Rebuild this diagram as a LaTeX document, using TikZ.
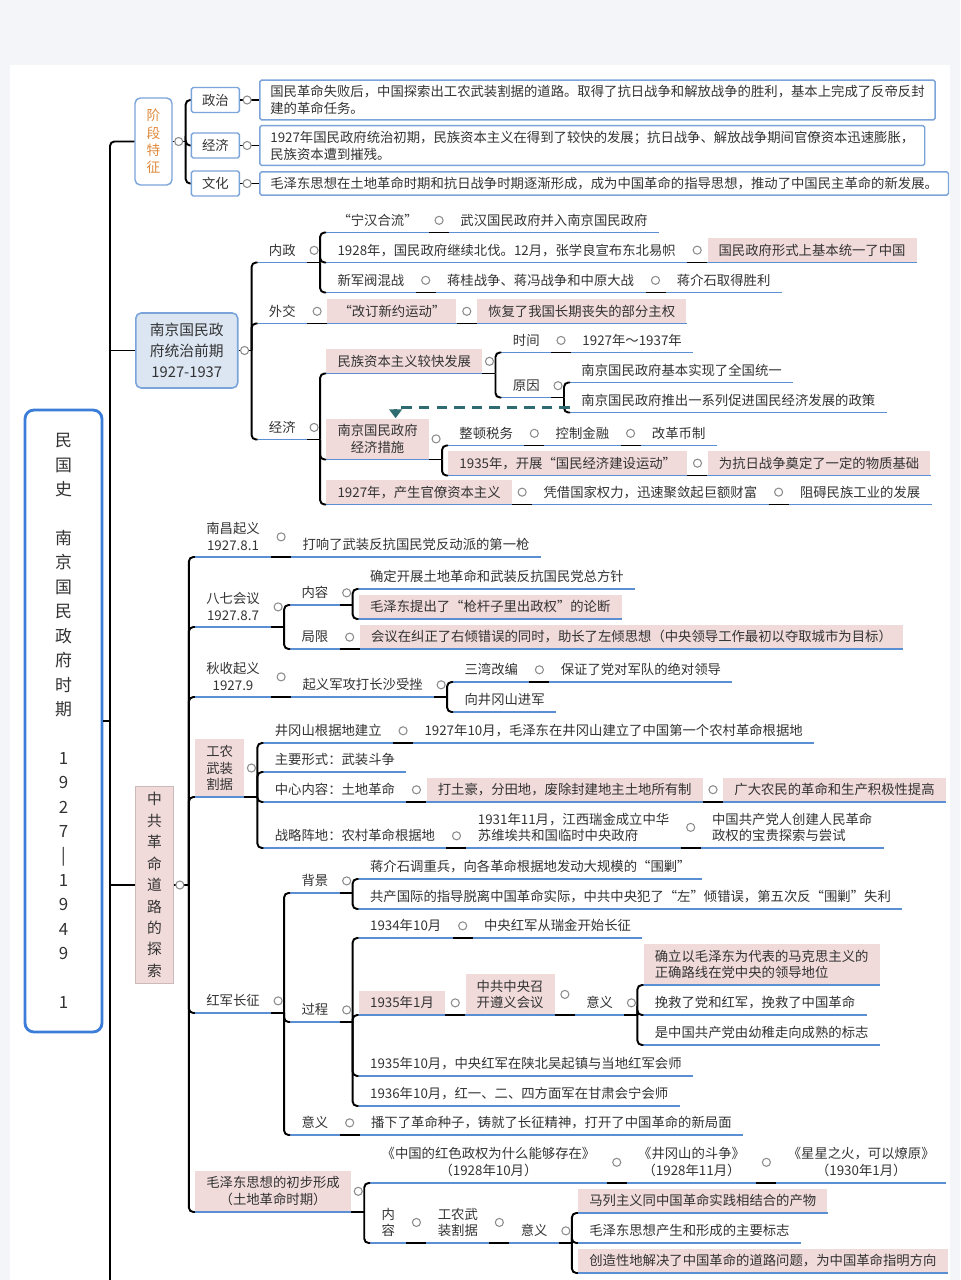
\documentclass[tikz,border=0pt]{standalone}
\usepackage{fontspec}
\setmainfont{Noto Sans CJK SC}
\usetikzlibrary{arrows.meta, calc}
\definecolor{ink}{HTML}{333333}
\definecolor{lineblue}{HTML}{5B8FD3}
\definecolor{boxblue}{HTML}{7BA4DB}
\definecolor{rootblue}{HTML}{3B7DD8}
\definecolor{pinkbg}{HTML}{F0DADA}
\definecolor{paleblue}{HTML}{DCE6F3}
\definecolor{orangetxt}{HTML}{E08A3C}
\definecolor{relteal}{HTML}{2E6C72}
\definecolor{pagebg}{HTML}{F3F5F9}
\newcommand\tf{\fontsize{7.6pt}{9.6pt}\selectfont}
\tikzset{
  topic/.style={anchor=south west, inner xsep=6.3pt, inner ysep=3.2pt, text=ink, font=\tf, align=center,
    append after command={(\tikzlastnode.south west) edge[underl] (\tikzlastnode.south east)}},
  pinktopic/.style={topic, fill=pinkbg},
  bluebox/.style={draw=boxblue, fill=white, line width=0.8pt, rounded corners=1pt, text=ink, font=\tf, inner xsep=6pt, inner ysep=3pt},
  underl/.style={draw=lineblue, line width=1.1pt},
  conn/.style={draw=black, line width=1.1pt, rounded corners=2.5pt},
  knob/.style={circle, draw=black!45, fill=white, line width=0.6pt, inner sep=0pt, minimum size=4.6pt},
  relarrow/.style={draw=relteal, line width=1.3pt, dash pattern=on 6pt off 4pt, -{Triangle[width=7pt,length=5pt]}},
  rootbox/.style={draw=rootblue, line width=1.6pt, rounded corners=5pt, fill=white, minimum width=1.54cm, minimum height=12.44cm, align=center, text=ink, font=\fontsize{9.6pt}{13.9pt}\selectfont},
  stagebox/.style={draw=boxblue, line width=0.8pt, rounded corners=3pt, fill=white, minimum width=0.74cm, minimum height=1.74cm, align=center, text=orangetxt, font=\fontsize{7.8pt}{9.9pt}\selectfont},
  njbox/.style={draw=boxblue, fill=paleblue, line width=0.9pt, rounded corners=3pt, anchor=west, minimum width=2.04cm, minimum height=1.5cm, align=center, text=ink, font=\fontsize{8.4pt}{11.9pt}\selectfont},
  zgbox/.style={draw=pinkbg!85!black, fill=pinkbg, line width=0.5pt, anchor=west, minimum width=0.76cm, minimum height=3.92cm, align=center, text=ink, font=\fontsize{8.4pt}{12.2pt}\selectfont},
}
% chain link with knob, and fork to a bracket of children
\newcommand\link[2]{\draw[conn] (#1.south east) -- (#2.south west); \node[knob] (k-#1) at ($(#1.east)+(10,0)$) {};}
\newcommand\fork[2]{\draw[conn] (#1.south east) -- ++(13,0);
  \foreach \ch in {#2} {\draw[conn] (#1.south east) ++(13,0) |- (\ch.south west);}
  \node[knob] (k-#1) at ($(#1.east)+(7,0)$) {};}
\newcommand\forkc[3]{\draw[conn] (#1.east) -- ++(#2,0);
  \foreach \ch in {#3} {\draw[conn] (#1.east) ++(#2,0) |- (\ch.south west);}
  \node[knob] (k-#1) at ($(#1.east)+(6,0)$) {};}

\begin{document}
\begin{tikzpicture}[x=0.02cm, y=-0.02cm]
\useasboundingbox (0,0) rectangle (960,1280);
\fill[pagebg] (0,0) rectangle (960,1280);
\fill[white] (10,65) rectangle (950,1280);
\coordinate (trunkend) at (110,1280);

% root
\node[rootbox] (root) at (63.5,721) {民\\国\\史\\[13.9pt]南\\京\\国\\民\\政\\府\\时\\期\\[13.9pt]1\\9\\2\\7\\|\\1\\9\\4\\9\\[13.9pt]1};

% stage features
\node[stagebox] (jd) at (153.5,141.5) {阶\\段\\特\\征};
\node[bluebox, anchor=west, minimum width=0.96cm, minimum height=0.5cm] (zz) at ($(jd.east)+(18,-41.5)$) {政治};
\node[bluebox, anchor=west, minimum width=0.96cm, minimum height=0.5cm] (jjk) at ($(jd.east)+(18,4)$) {经济};
\node[bluebox, anchor=west, minimum width=0.96cm, minimum height=0.5cm] (wh) at ($(jd.east)+(18,42)$) {文化};
\node[bluebox, anchor=west, align=left] (zzt) at ($(zz.east)+(19,0)$) {国民革命失败后，中国探索出工农武装割据的道路。取得了抗日战争和解放战争的胜利，基本上完成了反帝反封\\建的革命任务。};
\node[bluebox, anchor=west, align=left] (jjkt) at ($(jjk.east)+(19,0)$) {1927年国民政府统治初期，民族资本主义在得到了较快的发展；抗日战争、解放战争期间官僚资本迅速膨胀，\\民族资本遭到摧残。};
\node[bluebox, anchor=west, align=left] (wht) at ($(wh.east)+(19,0)$) {毛泽东思想在土地革命时期和抗日战争时期逐渐形成，成为中国革命的指导思想，推动了中国民主革命的新发展。};
\draw[conn] (jd.east) -- ++(13,0);
\foreach \ch in {zz,jjk,wh} \draw[conn] (jd.east) ++(13,0) |- (\ch.west);
\foreach \a/\b in {zz/zzt,jjk/jjkt,wh/wht} {\draw[conn] (\a.east) -- (\b.west); \node[knob] (k-\a) at ($(\a.east)+(7,0)$) {};}
\node[knob] (k-jd) at ($(jd.east)+(6,0)$) {};

% Nanjing government
\node[njbox] (nj) at (135,350.5) {南京国民政\\府统治前期\\1927-1937};
\node[topic] (nz) at ($(nj.east)+(19,-88)$) {内政};
\node[topic] (wj) at ($(nj.east)+(19,-27)$) {外交};
\node[topic] (jj) at ($(nj.east)+(19,89)$) {经济};

\node[topic] (nz1) at ($(nz.south east)+(19,-30)$) {“宁汉合流”};
\node[topic] (nz1b) at ($(nz1.south east)+(20,0)$) {武汉国民政府并入南京国民政府};
\node[topic] (nz2) at ($(nz.south east)+(19,0)$) {1928年，国民政府继续北伐。12月，张学良宣布东北易帜};
\node[pinktopic] (nz2b) at ($(nz2.south east)+(20,0)$) {国民政府形式上基本统一了中国};
\node[topic] (nz3) at ($(nz.south east)+(19,30)$) {新军阀混战};
\node[topic] (nz3b) at ($(nz3.south east)+(20,0)$) {蒋桂战争、蒋冯战争和中原大战};
\node[topic] (nz3c) at ($(nz3b.south east)+(20,0)$) {蒋介石取得胜利};

\node[pinktopic] (wj1) at ($(wj.south east)+(20,0)$) {“改订新约运动”};
\node[pinktopic] (wj2) at ($(wj1.south east)+(20,0)$) {恢复了我国长期丧失的部分主权};

\node[pinktopic] (jj1) at ($(jj.south east)+(19,-66)$) {民族资本主义较快发展};
\node[topic] (sj) at ($(jj1.south east)+(19,-21)$) {时间};
\node[topic] (sjb) at ($(sj.south east)+(20,0)$) {1927年～1937年};
\node[topic] (yy) at ($(jj1.south east)+(19,24)$) {原因};
\node[topic] (yy1) at ($(yy.south east)+(19,-15)$) {南京国民政府基本实现了全国统一};
\node[topic] (yy2) at ($(yy.south east)+(19,15)$) {南京国民政府推出一系列促进国民经济发展的政策};
\node[pinktopic] (jj2) at ($(jj.south east)+(19,20)$) {南京国民政府\\经济措施};
\node[topic] (cs1) at ($(jj2.south east)+(19,-14)$) {整顿税务};
\node[topic] (cs1b) at ($(cs1.south east)+(20,0)$) {控制金融};
\node[topic] (cs1c) at ($(cs1b.south east)+(20,0)$) {改革币制};
\node[pinktopic] (cs2) at ($(jj2.south east)+(19,16)$) {1935年，开展“国民经济建设运动”};
\node[pinktopic] (cs2b) at ($(cs2.south east)+(20,0)$) {为抗日战争奠定了一定的物质基础};
\node[pinktopic] (jj3) at ($(jj.south east)+(19,65)$) {1927年，产生官僚资本主义};
\node[topic] (jj3b) at ($(jj3.south east)+(20,0)$) {凭借国家权力，迅速聚敛起巨额财富};
\node[topic] (jj3c) at ($(jj3b.south east)+(20,0)$) {阻碍民族工业的发展};

\forkc{nj}{13}{nz,wj,jj}
\fork{nz}{nz1,nz2,nz3}
\link{nz1}{nz1b} \link{nz2}{nz2b} \link{nz3}{nz3b} \link{nz3b}{nz3c}
\link{wj}{wj1} \link{wj1}{wj2}
\fork{jj}{jj1,jj2,jj3} \fork{jj1}{sj,yy} \fork{yy}{yy1,yy2} \fork{jj2}{cs1,cs2}
\link{sj}{sjb} \link{cs1}{cs1b} \link{cs1b}{cs1c} \link{cs2}{cs2b} \link{jj3}{jj3b} \link{jj3b}{jj3c}
\draw[relarrow] (yy2.south west) ++(0,-5) -| ($(jj2.north)+(18,0)$);

% CPC revolution road
\node[zgbox] (zg) at (135,885) {中\\共\\革\\命\\道\\路\\的\\探\\索};
\node[topic] (nc) at ($(zg.east)+(21,-328)$) {南昌起义\\1927.8.1};
\node[topic] (nc1) at ($(nc.south east)+(20,0)$) {打响了武装反抗国民党反动派的第一枪};

\node[topic] (bq) at ($(zg.east)+(21,-258)$) {八七会议\\1927.8.7};
\node[topic] (bq1) at ($(bq.south east)+(19,-22)$) {内容};
\node[topic] (bq1a) at ($(bq1.south east)+(19,-16)$) {确定开展土地革命和武装反抗国民党总方针};
\node[pinktopic] (bq1b) at ($(bq1.south east)+(19,14)$) {毛泽东提出了“枪杆子里出政权”的论断};
\node[topic] (bq2) at ($(bq.south east)+(19,22)$) {局限};
\node[pinktopic] (bq2b) at ($(bq2.south east)+(20,0)$) {会议在纠正了右倾错误的同时，助长了左倾思想（中央领导工作最初以夺取城市为目标）};

\node[topic] (qs) at ($(zg.east)+(21,-188)$) {秋收起义\\1927.9};
\node[topic] (qs1) at ($(qs.south east)+(20,0)$) {起义军攻打长沙受挫};
\node[topic] (qs1a) at ($(qs1.south east)+(19,-15)$) {三湾改编};
\node[topic] (qs1ab) at ($(qs1a.south east)+(20,0)$) {保证了党对军队的绝对领导};
\node[topic] (qs1b) at ($(qs1.south east)+(19,15)$) {向井冈山进军};

\node[pinktopic] (gn) at ($(zg.east)+(21,-88)$) {工农\\武装\\割据};
\node[topic] (gn1) at ($(gn.south east)+(19,-54)$) {井冈山根据地建立};
\node[topic] (gn1b) at ($(gn1.south east)+(20,0)$) {1927年10月，毛泽东在井冈山建立了中国第一个农村革命根据地};
\node[topic] (gn2) at ($(gn.south east)+(19,-25)$) {主要形式：武装斗争};
\node[topic] (gn3) at ($(gn.south east)+(19,5)$) {中心内容：土地革命};
\node[pinktopic] (gn3b) at ($(gn3.south east)+(20,0)$) {打土豪，分田地，废除封建地主土地所有制};
\node[pinktopic] (gn3c) at ($(gn3b.south east)+(20,0)$) {广大农民的革命和生产积极性提高};
\node[topic] (gn4) at ($(gn.south east)+(19,51)$) {战略阵地：农村革命根据地};
\node[topic, align=left] (gn4b) at ($(gn4.south east)+(20,0)$) {1931年11月，江西瑞金成立中华\\苏维埃共和国临时中央政府};
\node[topic, align=left] (gn4c) at ($(gn4b.south east)+(20,0)$) {中国共产党人创建人民革命\\政权的宝贵探索与尝试};

\node[topic] (hj) at ($(zg.east)+(21,128)$) {红军长征};
\node[topic] (hj1) at ($(hj.south east)+(19,-120)$) {背景};
\node[topic] (hj1a) at ($(hj1.south east)+(19,-14)$) {蒋介石调重兵，向各革命根据地发动大规模的“围剿”};
\node[topic] (hj1b) at ($(hj1.south east)+(19,16)$) {共产国际的指导脱离中国革命实际，中共中央犯了“左”倾错误，第五次反“围剿”失利};
\node[topic] (hj2) at ($(hj.south east)+(19,9)$) {过程};
\node[topic] (gc1) at ($(hj2.south east)+(19,-84)$) {1934年10月};
\node[topic] (gc1b) at ($(gc1.south east)+(20,0)$) {中央红军从瑞金开始长征};
\node[pinktopic] (gc2) at ($(hj2.south east)+(19,-7)$) {1935年1月};
\node[pinktopic] (gc2b) at ($(gc2.south east)+(20,0)$) {中共中央召\\开遵义会议};
\node[topic] (gc2c) at ($(gc2b.south east)+(20,0)$) {意义};
\node[pinktopic, align=left] (zy1) at ($(gc2c.south east)+(19,-30)$) {确立以毛泽东为代表的马克思主义的\\正确路线在党中央的领导地位};
\node[topic] (zy2) at ($(gc2c.south east)+(19,0)$) {挽救了党和红军，挽救了中国革命};
\node[topic] (zy3) at ($(gc2c.south east)+(19,30)$) {是中国共产党由幼稚走向成熟的标志};
\node[topic] (gc3) at ($(hj2.south east)+(19,54)$) {1935年10月，中央红军在陕北吴起镇与当地红军会师};
\node[topic] (gc4) at ($(hj2.south east)+(19,84)$) {1936年10月，红一、二、四方面军在甘肃会宁会师};
\node[topic] (hj3) at ($(hj.south east)+(19,122)$) {意义};
\node[topic] (hj3b) at ($(hj3.south east)+(20,0)$) {播下了革命种子，铸就了长征精神，打开了中国革命的新局面};

\node[pinktopic] (mz) at ($(zg.east)+(21,327)$) {毛泽东思想的初步形成\\（土地革命时期）};
\node[topic] (mz1) at ($(mz.south east)+(19,-29)$) {《中国的红色政权为什么能够存在》\\（1928年10月）};
\node[topic] (mz1b) at ($(mz1.south east)+(20,0)$) {《井冈山的斗争》\\（1928年11月）};
\node[topic] (mz1c) at ($(mz1b.south east)+(20,0)$) {《星星之火，可以燎原》\\（1930年1月）};
\node[topic] (mz2) at ($(mz.south east)+(19,31)$) {内\\容};
\node[topic] (mz2b) at ($(mz2.south east)+(20,0)$) {工农武\\装割据};
\node[topic] (mz2c) at ($(mz2b.south east)+(20,0)$) {意义};
\node[pinktopic] (yi1) at ($(mz2c.south east)+(19,-30)$) {马列主义同中国革命实践相结合的产物};
\node[topic] (yi2) at ($(mz2c.south east)+(19,0)$) {毛泽东思想产生和形成的主要标志};
\node[pinktopic] (yi3) at ($(mz2c.south east)+(19,30)$) {创造性地解决了中国革命的道路问题，为中国革命指明方向};

\forkc{zg}{15}{nc,bq,qs,gn,hj,mz}
\link{nc}{nc1}
\fork{bq}{bq1,bq2} \fork{bq1}{bq1a,bq1b} \link{bq2}{bq2b}
\link{qs}{qs1} \fork{qs1}{qs1a,qs1b} \link{qs1a}{qs1ab}
\fork{gn}{gn1,gn2,gn3,gn4} \link{gn1}{gn1b} \link{gn3}{gn3b} \link{gn3b}{gn3c} \link{gn4}{gn4b} \link{gn4b}{gn4c}
\fork{hj}{hj1,hj2,hj3} \fork{hj1}{hj1a,hj1b} \fork{hj2}{gc1,gc2,gc3,gc4}
\link{gc1}{gc1b} \link{gc2}{gc2b} \link{gc2b}{gc2c} \fork{gc2c}{zy1,zy2,zy3} \link{hj3}{hj3b}
\fork{mz}{mz1,mz2} \link{mz1}{mz1b} \link{mz1b}{mz1c} \link{mz2}{mz2b} \link{mz2b}{mz2c} \fork{mz2c}{yi1,yi2,yi3}

% trunk
\draw[conn] (jd.west) -| (trunkend);
\draw[conn] (root.east) -- (root.east -| trunkend);
\draw[conn] (nj.west) -- (nj.west -| trunkend);
\draw[conn] (zg.west) -- (zg.west -| trunkend);
\end{tikzpicture}
\end{document}
